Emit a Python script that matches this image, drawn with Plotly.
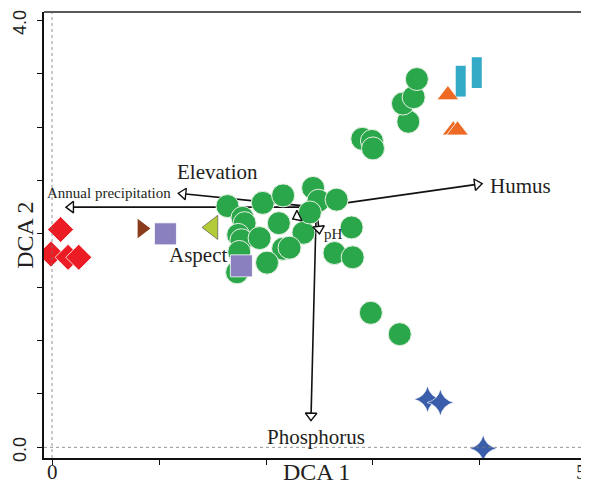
import numpy as np
import plotly.graph_objects as go

# ---------------- data (DCA site scores) ----------------
green_x = [1.64, 1.78, 1.80, 1.97, 2.16, 1.74, 1.77, 1.94, 2.12, 2.16, 2.01, 1.75, 1.73,
           2.35, 2.44, 2.49, 2.66, 2.41, 2.22, 2.80, 2.64, 2.81, 2.90, 2.99, 3.00, 3.33,
           3.28, 3.38, 3.41, 2.98, 3.25]
green_y = [2.26, 2.15, 2.10, 2.29, 2.36, 1.99, 1.94, 1.96, 2.10, 1.86, 1.73, 1.83, 1.64,
           2.01, 2.43, 2.31, 2.32, 2.20, 1.87, 2.06, 1.82, 1.78, 2.89, 2.87, 2.80, 3.05,
           3.22, 3.28, 3.45, 1.26, 1.06]

red_x = [0.08, -0.01, 0.15, 0.25]
red_y = [2.04, 1.81, 1.78, 1.78]

brown_x = [0.84]
brown_y = [2.05]

purple_x = [1.06, 1.77]
purple_y = [2.00, 1.70]

lime_x = [1.50]
lime_y = [2.06]

orange_x = [3.70, 3.75, 3.79]
orange_y = [3.30, 2.97, 2.97]

cyan_x = [3.82, 3.97]
cyan_y = [3.43, 3.51]

blue_x = [3.51, 3.63, 4.03]
blue_y = [0.45, 0.42, -0.01]

# environmental vectors (origin and tips)
env_origin = (2.47, 2.25)
env_names = ["Annual precipitation", "Elevation", "Humus", "Phosphorus", "pH", "Aspect"]
env_x = [0.13, 1.18, 4.02, 2.42, 2.50, 2.25]
env_y = [2.25, 2.38, 2.47, 0.25, 2.00, 2.14]

x_tickvals = [0, 1, 2, 3, 4, 5]
x_labelled = [0, 5]
x_labeltext = ["0", "5"]
y_tickvals = [0.0, 0.5, 1.0, 1.5, 2.0, 2.5, 3.0, 3.5, 4.0]
y_labelled = [0.0, 4.0]
y_labeltext = ["0.0", "4.0"]

# ---------------- layout constants ----------------
# the page body adds an 8px offset, so the figure is 8px smaller on each axis
W, H = 581, 476
ML, MR, MT, MB = 36, 0, 4, 26
XR = [-0.075, 5.019]
YR = [-0.10, 4.078]
PXX = (W - ML - MR) / (XR[1] - XR[0])
PXY = (H - MT - MB) / (YR[1] - YR[0])

SERIF = "Liberation Serif"
SANS = "Liberation Sans"
TXT = "#231f20"

# label placement relative to arrow tips (pixels), anchor
label_style = {
    "Annual precipitation": dict(dx=-21, dy=14, anchor="left", size=15),
    "Elevation": dict(dx=39, dy=21, anchor="center", size=21),
    "Humus": dict(dx=6, dy=-2, anchor="left", size=21),
    "Phosphorus": dict(dx=5, dy=-16, anchor="center", size=21),
    "pH": dict(dx=2, dy=0, anchor="left", size=15),
    "Aspect": dict(dx=-95, dy=-36, anchor="center", size=21),
}
x_label_shift = {0: 0, 5: -5}

fig = go.Figure()

# arrow shafts
for name, ex, ey in zip(env_names, env_x, env_y):
    fig.add_trace(go.Scatter(x=[env_origin[0], ex], y=[env_origin[1], ey], mode="lines",
                             line=dict(color="#111111", width=1.6), hoverinfo="skip"))

# site markers
fig.add_trace(go.Scatter(x=green_x, y=green_y, mode="markers",
                         marker=dict(symbol="circle", size=23, color="#2aa74a",
                                     line=dict(color="#e9f1e4", width=1))))
fig.add_trace(go.Scatter(x=red_x, y=red_y, mode="markers",
                         marker=dict(symbol="diamond", size=20, color="#ec1c24",
                                     line=dict(color="#ffffff", width=0.8))))
fig.add_trace(go.Scatter(x=brown_x, y=brown_y, mode="markers",
                         marker=dict(symbol="triangle-right", size=17, color="#8a3b1b",
                                     line=dict(width=0))))
fig.add_trace(go.Scatter(x=purple_x, y=purple_y, mode="markers",
                         marker=dict(symbol="square", size=22, color="#8a7fbf",
                                     line=dict(color="#ffffff", width=0.8))))
fig.add_trace(go.Scatter(x=lime_x, y=lime_y, mode="markers",
                         marker=dict(symbol="triangle-left", size=21, color="#b3cb39",
                                     line=dict(color="#444444", width=0.6))))
fig.add_trace(go.Scatter(x=orange_x, y=orange_y, mode="markers",
                         marker=dict(symbol="triangle-up", size=19, color="#ee6a24",
                                     line=dict(color="#ffffff", width=0.8))))
fig.add_trace(go.Scatter(x=cyan_x, y=cyan_y, mode="markers",
                         marker=dict(symbol="line-ns", size=22,
                                     line=dict(color="#33aac6", width=10))))
fig.add_trace(go.Scatter(x=blue_x, y=blue_y, mode="markers",
                         marker=dict(symbol="star-diamond", size=19, color="#3b5eab",
                                     line=dict(color="#ffffff", width=0.6))))

# arrow heads (open triangles, oriented along vectors)
hx, hy, ha = [], [], []
for ex, ey in zip(env_x, env_y):
    dxp = (ex - env_origin[0]) * PXX
    dyp = (ey - env_origin[1]) * PXY
    L = np.hypot(dxp, dyp)
    ux, uy = dxp / L, dyp / L
    back = 5.0
    hx.append(ex - ux * back / PXX)
    hy.append(ey - uy * back / PXY)
    ha.append(float(np.degrees(np.arctan2(dxp, dyp))))
fig.add_trace(go.Scatter(x=hx, y=hy, mode="markers",
                         marker=dict(symbol="triangle-up", size=10, angle=ha, color="white",
                                     line=dict(color="#111111", width=1.4)),
                         hoverinfo="skip"))

# labels
annotations = []
for name, ex, ey in zip(env_names, env_x, env_y):
    s = label_style[name]
    annotations.append(dict(x=ex, y=ey, xref="x", yref="y", text=name, showarrow=False,
                            xanchor=s["anchor"], yanchor="middle",
                            xshift=s["dx"], yshift=s["dy"],
                            font=dict(family=SERIF, size=s["size"], color=TXT)))

# tick labels (only the end values are labelled)
for v, t in zip(x_labelled, x_labeltext):
    annotations.append(dict(x=v, y=-0.031, xref="x", yref="paper", text=t, showarrow=False,
                            xanchor="center", yanchor="middle", xshift=x_label_shift[v],
                            font=dict(family=SERIF, size=21, color=TXT)))
for v, t in zip(y_labelled, y_labeltext):
    annotations.append(dict(x=-0.043, y=v, xref="paper", yref="y", text=t, showarrow=False,
                            textangle=-90, xanchor="center", yanchor="middle", yshift=-2,
                            font=dict(family=SANS, size=18, color=TXT)))

annotations.append(dict(x=2.47, y=-0.032, xref="x", yref="paper", text="DCA 1", showarrow=False,
                        xanchor="center", yanchor="middle",
                        font=dict(family=SERIF, size=24, color=TXT)))
annotations.append(dict(x=-0.035, y=1.99, xref="paper", yref="y", text="DCA 2", showarrow=False,
                        textangle=-90, xanchor="center", yanchor="middle",
                        font=dict(family=SERIF, size=24, color=TXT)))

shapes = [
    dict(type="line", xref="x", yref="paper", x0=0, x1=0, y0=0, y1=1,
         line=dict(color="#777777", width=0.8, dash="dot")),
    dict(type="line", xref="paper", yref="y", x0=0, x1=1, y0=0, y1=0,
         line=dict(color="#777777", width=0.8, dash="dot")),
    dict(type="line", xref="paper", yref="paper", x0=0, x1=1, y0=1, y1=1,
         line=dict(color="#5a5a5a", width=2)),
]

fig.update_layout(
    width=W, height=H,
    margin=dict(l=ML, r=MR, t=MT, b=MB),
    paper_bgcolor="white", plot_bgcolor="white",
    showlegend=False,
    annotations=annotations,
    shapes=shapes,
    xaxis=dict(range=XR, showgrid=False, zeroline=False, showline=True, automargin=False,
               linecolor="#111111", linewidth=2, ticks="outside", ticklen=5,
               tickwidth=1.2, tickcolor="#111111", showticklabels=False,
               tickvals=x_tickvals),
    yaxis=dict(range=YR, showgrid=False, zeroline=False, showline=True, automargin=False,
               linecolor="#111111", linewidth=2, ticks="outside", ticklen=5,
               tickwidth=1.2, tickcolor="#111111", showticklabels=False,
               tickvals=y_tickvals),
)

fig.write_html("out.html")
